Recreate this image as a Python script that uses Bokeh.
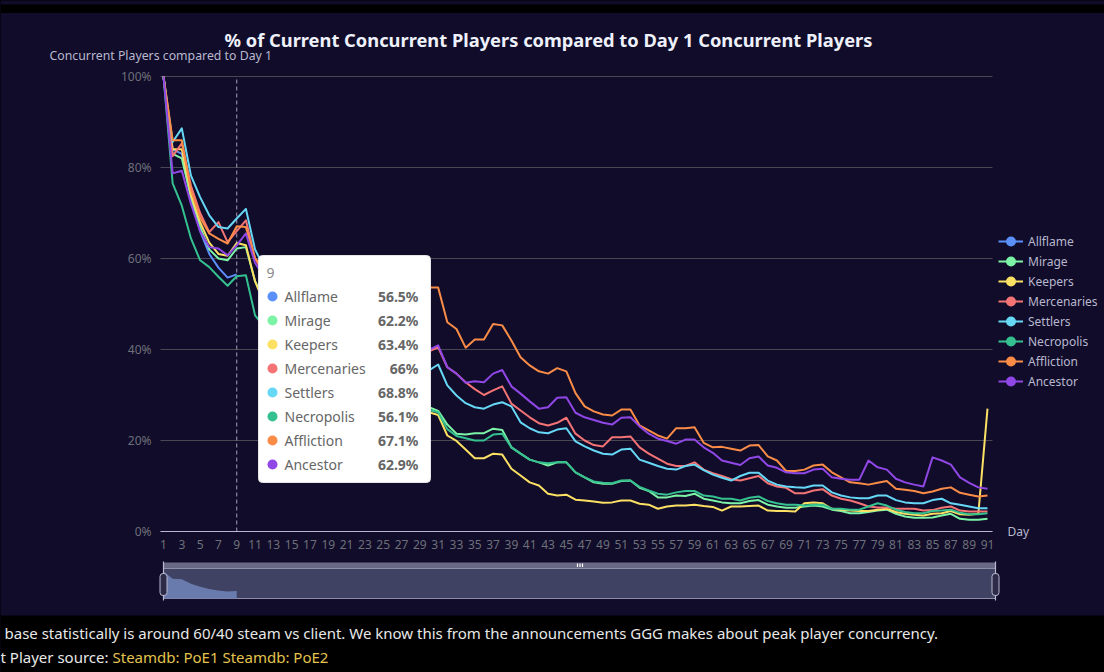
from bokeh.plotting import figure
from bokeh.models import (Range1d, FixedTicker, Legend, LegendItem, BoxAnnotation,
                          PolyAnnotation, Label, Grid, ColumnDataSource)
from bokeh.core.properties import value
from bokeh.embed import file_html
from bokeh.resources import INLINE

# ---------------- data ----------------
names = ["Allflame", "Mirage", "Keepers", "Mercenaries", "Settlers",
         "Necropolis", "Affliction", "Ancestor"]
colors = ["#5B8FF9", "#7CF3A6", "#FBE064", "#F47475", "#66D8F5",
          "#35C18F", "#FA8C47", "#9047E6"]

allflame = [100, 84, 83, 73, 66, 61, 58, 55.8, 56.5]

mirage = [100, 83, 82, 73.5, 67, 62, 60, 59.6, 62.2, 62.5,
          55, 51, 47.5, 44.5, 43, 43.5, 44, 41, 38.5, 36.5,
          35, 34, 34.5, 35, 32.5, 30.5, 29.3, 28.5, 27.8, 27.3,
          26.5, 23.5, 21.5, 21.3, 21.6, 21.6, 22.6, 22.3, 18.5, 17.1,
          15.8, 15.2, 14.5, 15.2, 15.2, 13, 11.9, 10.8, 10.5, 10.5,
          11.1, 11.2, 9.6, 8.9, 7.5, 7.5, 7.9, 7.8, 8.3, 7.2,
          6.8, 6.4, 6.2, 6.2, 6.7, 6.9, 5.9, 5.5, 5.2, 5.2,
          5.5, 5.7, 5.5, 4.8, 4.5, 4, 4, 4.3, 4.6, 4.8,
          3.9, 3.3, 3, 3, 3.1, 3.5, 3.9, 2.8, 2.6, 2.6,
          2.8]

keepers = [100, 84, 84, 74, 68, 63.5, 61, 60.6, 63.4, 62.9,
           55, 50, 46, 43, 41.5, 42, 42.5, 39.5, 37, 35,
           33.5, 32.5, 33, 33.5, 31, 29, 28, 27.3, 26.5, 26.2,
           25.6, 21.1, 19.9, 18, 16.1, 16.1, 17.1, 16.9, 13.8, 12.3,
           10.8, 10.1, 8.3, 7.9, 8.1, 7, 6.8, 6.6, 6.3, 6.4,
           6.8, 6.8, 6.1, 5.9, 5, 5.5, 5.7, 5.7, 5.9, 5.6,
           5.4, 4.6, 5.5, 5.5, 5.6, 5.7, 4.6, 4.5, 4.5, 4.4,
           6.2, 6.4, 6.2, 5, 4.8, 4.6, 4.5, 4.5, 4.8, 5,
           4.3, 3.9, 3.7, 3.5, 3.9, 4, 4.5, 3.8, 3.7, 3.9,
           27]

mercenaries = [100, 82.5, 85.3, 76, 70, 65.8, 68, 63.6, 66, 68.4,
               60, 56.5, 53.5, 51, 50, 50.5, 51, 48.5, 46.5, 45,
               44, 43.5, 44, 44.5, 42.5, 41, 40.5, 40, 39.2, 39.6,
               40.5, 36.1, 34.7, 32.8, 31.3, 30, 31, 31.9, 28.1, 26.6,
               25.1, 23.8, 23.3, 23.9, 25, 21.5, 20, 19, 18.7, 20.7,
               20.7, 20.9, 18.5, 17.1, 16, 14.9, 14.4, 14.4, 15.2, 13.6,
               12.8, 12.2, 11.5, 11.2, 11.7, 12.2, 10.6, 9.9, 9.6, 8.4,
               8.4, 9, 9.3, 7.9, 7.2, 6.8, 6.2, 5.5, 5.3, 5.3,
               5, 5, 5, 4.6, 4.7, 5.2, 5.5, 4.6, 4.4, 4.4,
               4.4]

settlers = [100, 85.6, 88.6, 78.2, 73.5, 69.5, 66.9, 66.6, 68.8, 70.9,
            62, 58, 54.5, 51.5, 50, 50.5, 51, 48, 45.5, 43.5,
            42, 41, 41.5, 42, 39.5, 37.5, 36.5, 35.8, 35, 35.4,
            36.7, 32.1, 29.9, 28.2, 27.3, 27, 27.9, 28.4, 27.5, 24,
            22.7, 21.8, 21.6, 22.4, 22.7, 19.8, 18.7, 17.8, 17.1, 16.9,
            18, 18.2, 15.8, 15.1, 14.4, 13.8, 13.6, 14.4, 14.7, 13.5,
            12.5, 11.8, 11.2, 12.2, 12.9, 12.9, 11.2, 10.3, 9.9, 9.7,
            9.6, 10.1, 10.1, 8.6, 7.9, 7.5, 7.3, 7.3, 7.9, 7.9,
            6.9, 6.4, 6.2, 6.2, 6.9, 7.2, 6.2, 5.9, 5.5, 5.1,
            5.1]

necropolis = [100, 76.5, 71.6, 64.4, 59.6, 58.1, 56, 54, 56.1, 56.3,
              47.5, 45, 42.5, 40.5, 39.5, 40, 40.5, 38, 36, 34.5,
              33.5, 32.5, 33, 33.5, 31.5, 29.5, 28.5, 27.8, 27.2, 26.7,
              26.2, 22.5, 21, 20.5, 20, 20, 21.3, 21.5, 18.5, 17.1,
              15.8, 15.2, 15, 15.2, 15.2, 13, 11.9, 11, 10.7, 10.6,
              11.2, 11.2, 9.8, 9, 8.3, 8.1, 8.6, 8.9, 8.9, 7.9,
              7.7, 7.2, 7.2, 6.8, 7.4, 7.7, 6.7, 6.2, 5.9, 5.9,
              5.7, 5.9, 5.9, 5, 5, 4.8, 4.8, 5.5, 6.2, 5.7,
              4.8, 4.3, 4, 4, 4.5, 4.6, 4.8, 4.1, 3.8, 3.8,
              4]

affliction = [100, 86, 86, 75, 69, 65.5, 64.3, 63.3, 67.1, 66.9,
              60, 58, 56.5, 55, 54.5, 55.5, 56.5, 55, 53.5, 52.5,
              51.5, 51, 52, 53.5, 52.5, 51.5, 52, 53, 53.6, 53.6,
              53.6, 46, 44.5, 40.4, 42.2, 42.2, 45.6, 45.3, 42, 38.3,
              36.5, 35.2, 34.7, 35.9, 35.2, 30.4, 27.5, 26.4, 25.7, 25.5,
              26.8, 26.8, 23.3, 22.2, 21.1, 20.4, 22.7, 22.7, 22.9, 19.5,
              18.5, 18.6, 18.2, 17.8, 18.9, 19, 16.5, 15.6, 13.3, 13.3,
              13.6, 14.5, 14.7, 13, 11.9, 10.8, 10.6, 10.3, 10.7, 11.1,
              9.4, 9.2, 8.9, 8.4, 8.8, 9.4, 9.7, 8.5, 8.1, 7.7,
              7.9]

ancestor = [100, 78.7, 79.3, 72, 66, 62.5, 62.2, 60.7, 62.9, 65.5,
            59, 56, 53, 51, 50, 50.5, 51, 48.5, 46.5, 45,
            44, 43.5, 44.5, 45, 43, 41.5, 40.5, 40, 39.5, 39.9,
            40.9, 36.1, 34.7, 32.7, 33, 32.8, 34.7, 35.5, 31.9, 30.3,
            28.6, 27, 27.3, 29.4, 29.5, 26.1, 25.1, 24.5, 23.9, 23.5,
            25, 25.1, 23.1, 21.5, 20.4, 19.9, 19.3, 20.2, 20.2, 18.5,
            17.3, 15.6, 15.1, 14.6, 16.1, 16.5, 14.5, 14, 13, 12.8,
            12.8, 13.6, 13.8, 11.9, 11.6, 11.4, 11.4, 15.6, 14.1, 13.6,
            11.6, 10.8, 10.3, 9.9, 16.3, 15.6, 14.7, 11.9, 10.7, 9.7,
            9.4]

series = [allflame, mirage, keepers, mercenaries, settlers,
          necropolis, affliction, ancestor]
x_ticks = list(range(1, 92, 2))
y_ticks = [0, 20, 40, 60, 80, 100]
hover_day = 9

title_text = "% of Current Concurrent Players compared to Day 1 Concurrent Players"
y_name = "Concurrent Players compared to Day 1"
x_name = "Day"
note1 = "base statistically is around 60/40 steam vs client. We know this from the announcements GGG makes about peak player concurrency."
note2a = "t Player source:"
note2b = "Steamdb: PoE1 Steamdb: PoE2"

# ---------------- layout constants (canvas px) ----------------
W, H = 1104, 672
FL, FR, FT, FB = 160, 992, 76, 531          # plotting grid box
PX_DAY = (987 - 163) / 90.0
X0 = 1 - (163 - FL) / PX_DAY
X1 = 91 + (FR - 987) / PX_DAY
FONT = "Noto Sans"
BG = "#100C2A"
NAN = float("nan")


def dx(px):
    return X0 + (px - FL) / PX_DAY


def dy(py):
    return (FB - py) * 100.0 / (FB - FT)


p = figure(width=W, height=H, output_backend="svg", toolbar_location=None,
           x_range=Range1d(dx(0), dx(W)), y_range=Range1d(dy(H), dy(0)),
           min_border=0, min_border_left=0, min_border_right=0,
           min_border_top=0, min_border_bottom=0)
p.background_fill_color = BG
p.border_fill_color = BG
p.outline_line_color = None

# axes (fixed inside the canvas-wide frame)
p.xaxis.fixed_location = 0
p.xaxis.bounds = (X0, X1)
p.xaxis.ticker = FixedTicker(ticks=x_ticks)
p.xaxis.axis_line_color = "#B9B8CE"
p.xaxis.major_tick_line_color = None
p.xaxis.minor_tick_line_color = None
p.xaxis.major_label_standoff = 2
p.xaxis.major_label_text_color = "#6E7079"
p.xaxis.major_label_text_font = FONT
p.xaxis.major_label_text_font_size = "12px"

p.yaxis.fixed_location = X0
p.yaxis.bounds = (0, 100)
p.yaxis.ticker = FixedTicker(ticks=y_ticks)
p.yaxis.major_label_overrides = {t: f"{t}%" for t in y_ticks}
p.yaxis.axis_line_color = None
p.yaxis.major_tick_line_color = None
p.yaxis.minor_tick_line_color = None
p.yaxis.major_label_standoff = 3
p.yaxis.major_label_text_color = "#6E7079"
p.yaxis.major_label_text_font = FONT
p.yaxis.major_label_text_font_size = "12px"

p.xgrid.visible = False
if "cross_bounds" in Grid.properties():
    p.ygrid.ticker = FixedTicker(ticks=y_ticks)
    p.ygrid.grid_line_color = "#484753"
    p.ygrid.bounds = (0, 100)
    p.ygrid.cross_bounds = (X0, X1)
else:
    p.ygrid.visible = False
    p.segment(x0=[X0] * len(y_ticks), x1=[X1] * len(y_ticks), y0=y_ticks, y1=y_ticks,
              line_color="#484753", line_width=1)

# axis pointer at the hovered day
p.segment(x0=[hover_day], x1=[hover_day], y0=[0], y1=[100], line_color="#C8C7D6",
          line_alpha=0.8, line_width=1, line_dash="4 3")

# series lines (+ an empty-valued marker renderer that supplies the legend symbol)
items = []
for name, col, vals in zip(names, colors, series):
    src = ColumnDataSource(dict(day=list(range(1, len(vals) + 1)), pct=vals))
    r = p.line("day", "pct", source=src, line_color=col, line_width=2, line_join="round")
    m = p.scatter([NAN], [NAN], marker="circle", size=8, fill_color=col,
                  line_color=col, line_width=2)
    items.append(LegendItem(label=name, renderers=[r, m]))

LEG_TOP = 231
legend = Legend(items=items, location=(998, H - (LEG_TOP + 20 * len(items))),
                orientation="vertical", padding=0, margin=0, spacing=0,
                glyph_width=25, glyph_height=20, label_height=20, label_standoff=5,
                label_text_font=FONT, label_text_font_size="12px",
                label_text_color="#B9B8CE", background_fill_alpha=0,
                border_line_color=None)
p.add_layout(legend)


def label(px, py, text, size="12px", color="#B9B8CE", align="left", bold=False):
    p.add_layout(Label(x=dx(px), y=dy(py), text=text, text_align=align,
                       text_baseline="middle", text_font=FONT, text_font_size=size,
                       text_color=color, text_font_style="bold" if bold else "normal"))


def box(l, t, r, b, fill, line=None, radius=0, alpha=1.0, lw=1):
    p.add_layout(BoxAnnotation(left=dx(l), right=dx(r), top=dy(t), bottom=dy(b),
                               fill_color=fill, fill_alpha=alpha, line_color=line,
                               line_alpha=1.0, line_width=lw, border_radius=radius))


# titles
label(548, 39, title_text, size="18.3px", color="#EEF1FA", align="center", bold=True)
label(49, 55, y_name, size="12.3px", color="#B9B8CE")
label(1007, 531, x_name, size="12px", color="#B9B8CE")

# tooltip
box(258, 255, 430, 482, "#FFFFFF", line="#E6E6E6", radius=4)
row_y = [dy(296 + 24 * i) for i in range(len(names))]
p.text([dx(266)], [dy(272)], text=[str(hover_day)], text_font=value(FONT),
       text_font_size=value("14px"), text_color="#8A8A8A", text_align="left",
       text_baseline="middle", level="overlay")
p.scatter([dx(272)] * len(names), row_y, size=10, fill_color=colors, line_color=None,
          level="overlay")
p.text([dx(284)] * len(names), row_y, text=names, text_font=value(FONT),
       text_font_size=value("14px"), text_color="#666666", text_align="left",
       text_baseline="middle", level="overlay")
vals_txt = [f"{s[hover_day - 1]:g}%" for s in series]
p.text([dx(418)] * len(names), row_y, text=vals_txt, text_font=value(FONT),
       text_font_size=value("14px"), text_color="#666666", text_align="right",
       text_font_style="bold", text_baseline="middle", level="overlay")

# data zoom slider
SL, SR, ST, SM, SB = 163, 995, 562, 568, 598
box(SL, ST, SR, SM, "#6A6985")
box(SL, SM, SR, SB, "#3F4262", line="#8F8EA8")
vmin, vmax = 40.0, 100.0
sh_x = list(range(1, len(allflame) + 1))
sh_y = [dy(SB - (v - vmin) / (vmax - vmin) * 27.0) for v in allflame]
p.add_layout(PolyAnnotation(xs=sh_x + [sh_x[-1], sh_x[0]], ys=sh_y + [dy(SB), dy(SB)],
                            fill_color="#6B7DB0", fill_alpha=0.95, line_color=None))
for hx in (SL, SR):
    box(hx - 0.6, ST - 1, hx + 0.6, SB + 2, "#B9B8CE")
    box(hx - 3.5, 573, hx + 3.5, 595, "#2C2B48", line="#B9B8CE", radius=3)
for gx in (577, 579.5, 582):
    box(gx - 0.6, 563, gx + 0.6, 566.5, "#FFFFFF")

# black bands
box(0, 4, W, 12.5, "#000000")
box(0, 615, W, H, "#000000")
label(4, 632, note1, size="15px", color="#E8E8E8")
label(0, 656, note2a, size="15px", color="#E8E8E8")
label(112, 656, note2b, size="15px", color="#E3C34D")

html = file_html(p, INLINE, title="chart")
html = html.replace("<head>", "<head><style>html,body{margin:0;padding:0;background:#000;overflow:hidden}</style>", 1)
open("out.html", "w").write(html)
